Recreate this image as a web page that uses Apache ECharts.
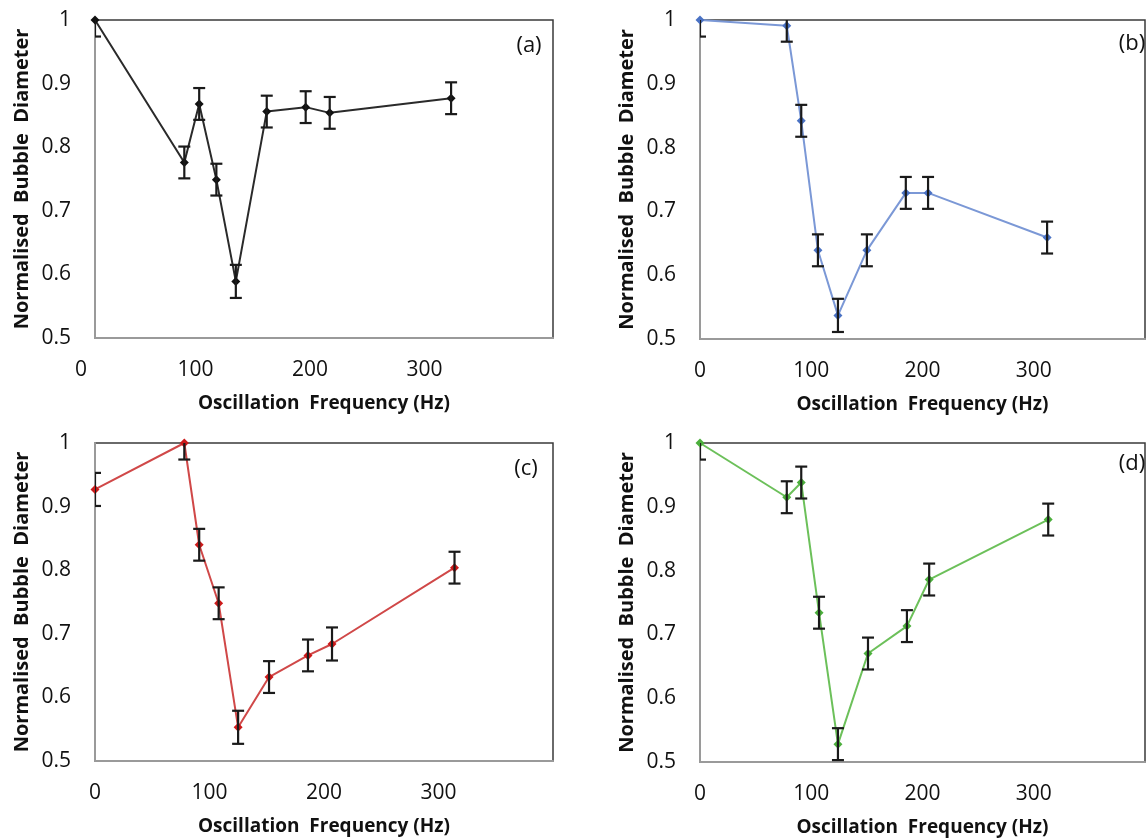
<!DOCTYPE html>
<html>
<head>
<meta charset="utf-8">
<script src="https://cdn.jsdelivr.net/npm/echarts@6/dist/echarts.min.js"></script>
<style>
html,body{margin:0;padding:0;background:#fff;}
#chart{width:1148px;height:838px;}
</style>
</head>
<body>
<div id="chart"></div>
<script>
// ---- data ----
const panelLabels = ['(a)', '(b)', '(c)', '(d)'];
const xTicks = [0, 100, 200, 300];
const yTitle = 'Normalised  Bubble  Diameter';
const xTitle = 'Oscillation  Frequency (Hz)';

const freqA = [0, 78, 91, 106, 123, 150, 184, 205, 311];
const diamA = [1.0, 0.776, 0.868, 0.749, 0.589, 0.856, 0.863, 0.854, 0.877];
const errA  = [0.026, 0.025, 0.025, 0.025, 0.026, 0.025, 0.025, 0.025, 0.025];

const freqB = [0, 78, 91, 106, 124, 150, 185, 205, 312];
const diamB = [1.0, 0.991, 0.842, 0.639, 0.537, 0.639, 0.729, 0.729, 0.659];
const errB  = [0.026, 0.025, 0.025, 0.025, 0.026, 0.025, 0.025, 0.025, 0.025];

const freqC = [0, 78, 91, 108, 125, 152, 186, 207, 314];
const diamC = [0.927, 1.0, 0.840, 0.748, 0.553, 0.632, 0.666, 0.684, 0.804];
const errC  = [0.026, 0.026, 0.025, 0.025, 0.026, 0.025, 0.025, 0.026, 0.025];

const freqD = [0, 78, 91, 107, 124, 151, 186, 206, 313];
const diamD = [1.0, 0.915, 0.938, 0.734, 0.528, 0.670, 0.713, 0.786, 0.880];
const errD  = [0.026, 0.025, 0.025, 0.025, 0.025, 0.025, 0.025, 0.025, 0.025];

const lineColors = ['#2a2a2a', '#7b98d6', '#d04848', '#6cc05a'];
const markColors = ['#111111', '#4a72c4', '#cc1a1a', '#4caf3c'];

// ---- layout ----
const grids = [
  {left: 95, top: 20, width: 458, height: 318},
  {left: 700, top: 20, width: 458, height: 319},
  {left: 95, top: 443, width: 458, height: 318},
  {left: 700, top: 443, width: 458, height: 319}
];
const labelPos = [[529, 46], [1132, 44], [526, 469], [1132, 464]];
const FONT = '"Open Sans", Lato, sans-serif';

const sets = [[freqA, diamA, errA], [freqB, diamB, errB], [freqC, diamC, errC], [freqD, diamD, errD]];

const option = {
  animation: false,
  backgroundColor: '#fff',
  grid: grids.map(g => Object.assign({show: true, borderColor: '#3a3a3a', borderWidth: 1.5, backgroundColor: 'transparent'}, g)),
  xAxis: grids.map((g, i) => ({
    type: 'value', gridIndex: i, min: 0, max: 400, interval: 100,
    axisLine: {show: true, lineStyle: {color: '#9a9a9a', width: 2}},
    axisTick: {show: false}, splitLine: {show: false},
    axisLabel: {
      margin: 22, fontSize: 21, color: '#111', fontFamily: FONT,
      padding: i === 0 ? [0, 28, 0, 0] : 0,
      formatter: v => (xTicks.indexOf(v) >= 0 ? String(v) : '')
    },
    name: xTitle, nameLocation: 'middle', nameGap: 56,
    nameTextStyle: {fontSize: 19, fontWeight: 'bold', color: '#111', fontFamily: FONT}
  })),
  yAxis: grids.map((g, i) => ({
    type: 'value', gridIndex: i, min: 0.5, max: 1, interval: 0.1,
    axisLine: {show: true, lineStyle: {color: '#9a9a9a', width: 2}},
    axisTick: {show: false}, splitLine: {show: false},
    axisLabel: {margin: 24, fontSize: 21, color: '#111', fontFamily: FONT,
      formatter: v => String(Math.round(v * 10) / 10)},
    name: yTitle, nameLocation: 'middle', nameGap: 63,
    nameTextStyle: {fontSize: 20, fontWeight: 'bold', color: '#111', fontFamily: FONT}
  })),
  graphic: panelLabels.map((t, i) => ({
    type: 'text', x: labelPos[i][0], y: labelPos[i][1],
    style: {text: t, fontSize: 22, fill: '#111', fontFamily: FONT, align: 'center', verticalAlign: 'middle'}
  })),
  series: []
};

sets.forEach((s, i) => {
  const [fx, dy, er] = s;
  option.series.push({
    type: 'line', xAxisIndex: i, yAxisIndex: i,
    data: fx.map((x, k) => [x, dy[k]]),
    symbol: 'diamond', symbolSize: 9, showSymbol: true,
    lineStyle: {color: lineColors[i], width: 2},
    itemStyle: {color: markColors[i]},
    clip: false, z: 3
  });
  option.series.push({
    type: 'custom', xAxisIndex: i, yAxisIndex: i, clip: true, z: 4,
    data: fx.map((x, k) => [x, dy[k] - er[k], dy[k] + er[k]]),
    renderItem: function (params, api) {
      const lo = api.coord([api.value(0), api.value(1)]);
      const hi = api.coord([api.value(0), api.value(2)]);
      const w = 6;
      const st = {stroke: '#1a1a1a', lineWidth: 2.2, fill: null};
      return {
        type: 'group',
        children: [
          {type: 'line', shape: {x1: lo[0], y1: lo[1], x2: hi[0], y2: hi[1]}, style: st},
          {type: 'line', shape: {x1: lo[0] - w, y1: lo[1], x2: lo[0] + w, y2: lo[1]}, style: st},
          {type: 'line', shape: {x1: hi[0] - w, y1: hi[1], x2: hi[0] + w, y2: hi[1]}, style: st}
        ]
      };
    }
  });
});

const chart = echarts.init(document.getElementById('chart'), null, {renderer: 'canvas'});
chart.setOption(option);
</script>
</body>
</html>
